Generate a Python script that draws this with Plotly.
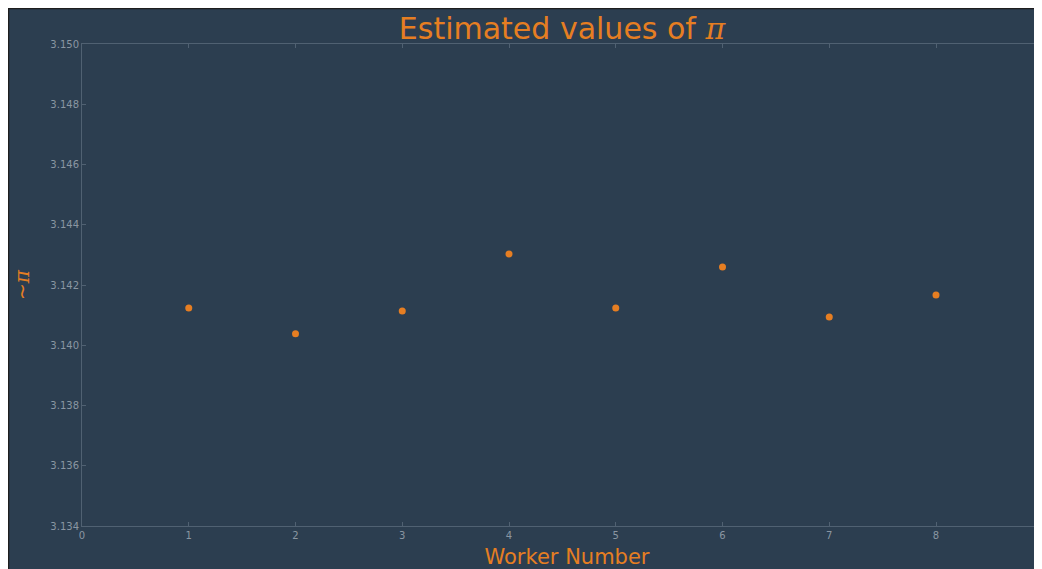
import plotly.graph_objects as go

workers = [1, 2, 3, 4, 5, 6, 7, 8]
pi_estimates = [3.14124, 3.14038, 3.14114, 3.14303, 3.14124, 3.14260, 3.14094, 3.14167]
y_ticks = [3.134, 3.136, 3.138, 3.140, 3.142, 3.144, 3.146, 3.148, 3.150]
x_ticks = [0, 1, 2, 3, 4, 5, 6, 7, 8, 9]

BG = "#2c3e50"
ORANGE = "#e67e22"
TICK = "#8a96a2"
SPINE = "#506172"

W, H = 1044, 561
L, R, T, B = 74, 0, 36, 43
pw = W - L - R
ph = H - T - B
X_MAX = pw / 106.75  # plot extends a little past 9, cropped by the window

fig = go.Figure()
fig.add_trace(go.Scatter(
    x=workers, y=pi_estimates, mode="markers",
    marker=dict(color=ORANGE, size=7, line=dict(width=0)),
    showlegend=False, hoverinfo="x+y",
))

axis_common = dict(
    showgrid=False, zeroline=False, showline=True, linecolor=SPINE, linewidth=1,
    mirror="ticks", ticks="inside", ticklen=4, tickcolor=SPINE,
    tickfont=dict(family="DejaVu Sans", size=10, color=TICK),
)

PI = "<i><span style=\"font-family:'DejaVu Serif'\">π</span></i>"

fig.update_layout(
    width=W, height=H,
    paper_bgcolor=BG, plot_bgcolor=BG,
    margin=dict(l=L, r=R, t=T, b=B, pad=0),
    title=dict(text="Estimated values of " + PI, x=(L + 1034 / 2 - 37) / W, xanchor="center",
               y=1 - 20 / H, yanchor="middle",
               font=dict(family="DejaVu Sans", size=30, color=ORANGE)),
    xaxis=dict(range=[0, X_MAX], tickvals=x_ticks, ticktext=[str(v) for v in x_ticks],
               title=dict(text="Worker Number", standoff=9,
                          font=dict(family="DejaVu Sans", size=21, color=ORANGE)),
               **axis_common),
    yaxis=dict(range=[3.134, 3.150], tickvals=y_ticks, ticktext=[f"{v:.3f}" for v in y_ticks],
               title=dict(text="~" + PI, standoff=15,
                          font=dict(family="DejaVu Sans", size=20, color=ORANGE)),
               **axis_common),
)

def fx(px):
    return (px - L) / pw

def fy(py):
    return 1 - (py - T) / ph

# thin dark frame on the left and top edges
fig.add_shape(type="line", xref="paper", yref="paper", x0=fx(0.5), x1=fx(0.5), y0=fy(H), y1=fy(0),
              line=dict(color="#1e1e1e", width=1.5), layer="above")
fig.add_shape(type="line", xref="paper", yref="paper", x0=fx(0), x1=fx(W), y0=fy(0.5), y1=fy(0.5),
              line=dict(color="#1e1e1e", width=1.5), layer="above")

fig.write_html("out.html", post_script="document.body.style.overflow='hidden';")
